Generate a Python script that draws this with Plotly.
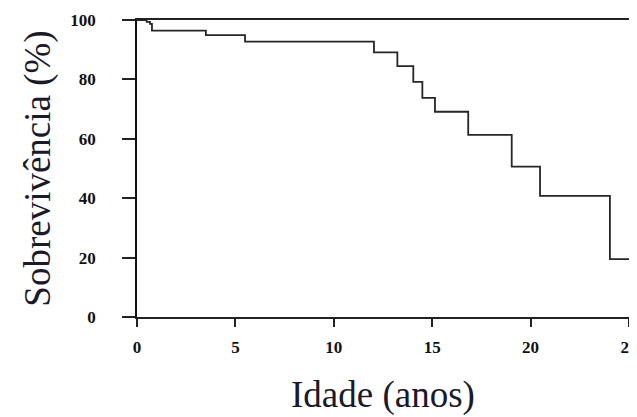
import plotly.graph_objects as go

# Kaplan-Meier style survival steps (age in years, survival %)
idade = [0, 0.49, 0.66, 0.76, 3.5, 5.49, 12.04, 13.23, 14.04, 14.5, 15.14, 16.83, 19.04, 20.48, 24.03, 25]
sobrevivencia = [100, 99.4, 98.7, 96.4, 94.9, 92.7, 89.1, 84.5, 79.2, 73.8, 69.1, 61.3, 50.6, 40.8, 19.5, 19.5]

x_ticks = [0, 5, 10, 15, 20, 25]
y_ticks = [0, 20, 40, 60, 80, 100]

serif = "Liberation Serif, Times New Roman, serif"

fig = go.Figure()
fig.add_trace(go.Scatter(
    x=idade, y=sobrevivencia, mode="lines", line_shape="hv",
    line=dict(color="#262626", width=1.8), cliponaxis=False, showlegend=False,
))

# page body has an 8px default margin, so the figure is sized to fit the window
fig.update_layout(
    width=629, height=409,
    margin=dict(l=129, r=8, t=12, b=100),
    paper_bgcolor="white", plot_bgcolor="white",
    font=dict(family=serif, color="#111"),
)
fig.update_xaxes(
    automargin=False,
    range=[0, 25], tickvals=x_ticks, ticktext=[str(v) for v in x_ticks],
    showgrid=False, zeroline=False,
    showline=True, linecolor="#222", linewidth=1.6, mirror=True,
    ticks="outside", ticklen=8, tickwidth=1.5, tickcolor="#222",
    tickfont=dict(family=serif, size=17, weight="bold", color="#111"),
    ticklabelstandoff=6, ticklabeloverflow="allow",
    title=dict(text="Idade (anos)", font=dict(family=serif, size=37, color="#1a1a28"), standoff=25),
)
fig.update_yaxes(
    automargin=False,
    range=[0, 100], tickvals=y_ticks, ticktext=[str(v) for v in y_ticks],
    showgrid=False, zeroline=False,
    showline=True, linecolor="#111", linewidth=1.8, mirror=True,
    ticks="outside", ticklen=13, tickwidth=1.5, tickcolor="#222",
    tickfont=dict(family=serif, size=17, weight="bold", color="#111"),
    ticklabelstandoff=23,
    title=dict(text="Sobrevivência (%)", font=dict(family=serif, size=37, color="#1a1a28"), standoff=8),
)

fig.write_html("out.html")
